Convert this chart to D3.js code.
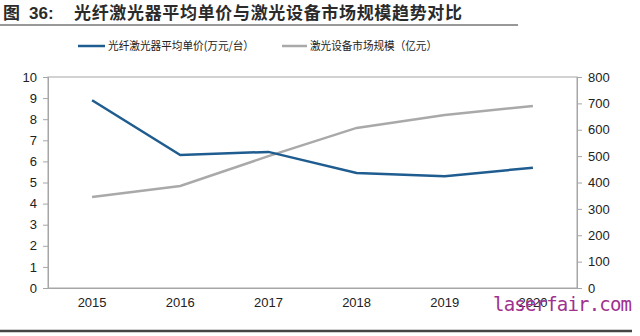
<!DOCTYPE html>
<html><head><meta charset="utf-8">
<script src="https://cdn.jsdelivr.net/npm/d3@7"></script>
<style>body{margin:0;background:#fff}svg{display:block}</style>
</head><body>
<svg id="c" width="640" height="336"></svg>
<script>
const years = ["2015","2016","2017","2018","2019","2020"];
const priceValues = [8.9, 6.3, 6.45, 5.45, 5.3, 5.7];
const marketValues = [345, 387, 500, 607, 656, 690];
const leftTicks = [0,1,2,3,4,5,6,7,8,9,10];
const rightTicks = [0,100,200,300,400,500,600,700,800];
const titleParts = ["图", "36:", "光纤激光器平均单价与激光设备市场规模趋势对比"];
const priceLabel = "光纤激光器平均单价(万元/台）";
const marketLabel = "激光设备市场规模（亿元）";

const svg = d3.select("#c");
const font = "Arial, 'Liberation Sans', 'Noto Sans CJK SC', sans-serif";
const L = 48, R = 577, T = 77, B = 288;
const x = d3.scaleBand().domain(years).range([L, R]);
const yL = d3.scaleLinear().domain([0,10]).range([B, T]);
const yR = d3.scaleLinear().domain([0,800]).range([B, T]);
const axisColor = "#a6a6a6";

// title
const tt = svg.append("text").attr("y", 19).attr("font-family", "'Noto Sans CJK SC', sans-serif")
  .attr("font-weight", "bold").attr("font-size", 17).attr("fill", "#2b2b2b");
tt.append("tspan").attr("x", 3).text(titleParts[0]);
tt.append("tspan").attr("x", 29).attr("font-family", font).text(titleParts[1]);
tt.append("tspan").attr("x", 74).attr("textLength", 388).attr("lengthAdjust", "spacing").text(titleParts[2]);
svg.append("line").attr("x1", 0).attr("x2", 518).attr("y1", 25).attr("y2", 25).attr("stroke", "#333").attr("stroke-width", 1);
svg.append("line").attr("x1", 0).attr("x2", 632).attr("y1", 331).attr("y2", 331).attr("stroke", "#444").attr("stroke-width", 2.5);

// plot border
svg.append("rect").attr("x", L).attr("y", T).attr("width", R - L).attr("height", B - T)
  .attr("fill", "none").attr("stroke", axisColor).attr("stroke-width", 1);

// left axis
const gl = svg.append("g").attr("transform", `translate(${L},0)`)
  .call(d3.axisLeft(yL).tickValues(leftTicks).tickSize(5).tickPadding(6));
// right axis
const gr = svg.append("g").attr("transform", `translate(${R},0)`)
  .call(d3.axisRight(yR).tickValues(rightTicks).tickSize(5).tickPadding(6));
// bottom axis
const gb = svg.append("g").attr("transform", `translate(0,${B})`)
  .call(d3.axisBottom(x).tickSize(0).tickPadding(10));
[gl, gr, gb].forEach(g => {
  g.select(".domain").attr("stroke", axisColor);
  g.selectAll(".tick line").attr("stroke", axisColor);
  g.selectAll("text").attr("font-family", font).attr("font-size", 13).attr("fill", "#222");
});

const cx = d => x(d) + x.bandwidth() / 2;
const linePrice = d3.line().x((d, i) => cx(years[i])).y(d => yL(d));
const lineMarket = d3.line().x((d, i) => cx(years[i])).y(d => yR(d));
svg.append("path").attr("d", lineMarket(marketValues)).attr("fill", "none")
  .attr("stroke", "#a9a9a9").attr("stroke-width", 2.5);
svg.append("path").attr("d", linePrice(priceValues)).attr("fill", "none")
  .attr("stroke", "#1f5c8f").attr("stroke-width", 2.5);

// legend
const lg = svg.append("g").attr("font-family", "'Noto Sans CJK SC', sans-serif").attr("font-size", 11.5).attr("fill", "#222");
lg.append("line").attr("x1", 78).attr("x2", 105).attr("y1", 46).attr("y2", 46).attr("stroke", "#1f5c8f").attr("stroke-width", 2.5);
lg.append("text").attr("x", 108).attr("y", 50).attr("textLength", 146).attr("lengthAdjust", "spacingAndGlyphs").text(priceLabel);
lg.append("line").attr("x1", 282).attr("x2", 307).attr("y1", 46).attr("y2", 46).attr("stroke", "#a9a9a9").attr("stroke-width", 2.5);
lg.append("text").attr("x", 310).attr("y", 50).attr("textLength", 127).attr("lengthAdjust", "spacingAndGlyphs").text(marketLabel);

// watermark
svg.append("text").attr("x", 493).attr("y", 311).attr("font-family", "'DejaVu Sans Mono', monospace")
  .attr("font-size", 19).attr("fill", "#a0308e").attr("textLength", 139).attr("lengthAdjust", "spacing")
  .text("laserfair.com");
</script>
</body></html>
